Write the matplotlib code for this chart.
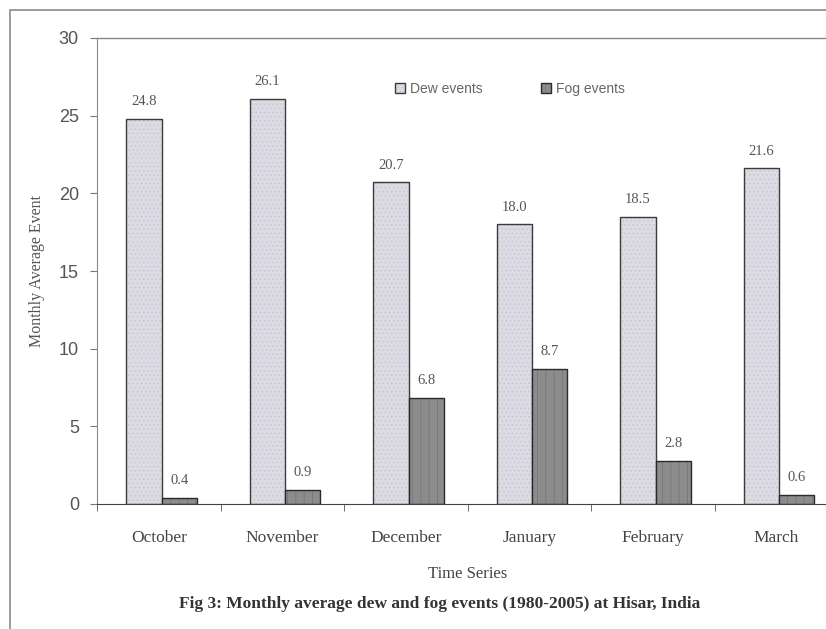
import matplotlib
matplotlib.use("Agg")
import matplotlib.pyplot as plt
from matplotlib.patches import Rectangle
import numpy as np

months = ["October", "November", "December", "January", "February", "March"]
dew_events = [24.8, 26.1, 20.7, 18.0, 18.5, 21.6]
fog_events = [0.4, 0.9, 6.8, 8.7, 2.8, 0.6]
dew_labels = ["24.8", "26.1", "20.7", "18.0", "18.5", "21.6"]
fog_labels = ["0.4", "0.9", "6.8", "8.7", "2.8", "0.6"]
y_ticks = [0, 5, 10, 15, 20, 25, 30]

W, H = 826, 629
fig = plt.figure(figsize=(W / 100, H / 100), dpi=100)
fig.patch.set_facecolor("white")

# outer frame (partly cut off on right / bottom)
fig.add_artist(Rectangle((10 / W, -0.05), 1.2, 1 - 10 / H + 0.05, transform=fig.transFigure,
                         fill=False, edgecolor="#8a8a8a", linewidth=1.2))

ax = fig.add_axes([97 / W, 1 - 504 / H, 741 / W, (504 - 38) / H])
x = np.arange(len(months))
bw = 0.285
plt.rcParams['hatch.linewidth'] = 0.5
b1 = ax.bar(x - 0.12, dew_events, width=bw, color="#dcdae3", edgecolor="#3a3a3a",
            linewidth=1.0, hatch="....", label="Dew events")
b2 = ax.bar(x + 0.165, fog_events, width=bw, color="#8c8c8c", edgecolor="#2a2a2a",
            linewidth=1.0, hatch="||", label="Fog events")
for bar in b1:
    bar._hatch_color = (0.78, 0.77, 0.82, 1)
for bar in b2:
    bar._hatch_color = (0.45, 0.45, 0.45, 1)

for xi, v, s in zip(x, dew_events, dew_labels):
    ax.text(xi - 0.12, v + 0.7, s, ha="center", va="bottom", family="Liberation Serif",
            fontsize=10.5, color="#555555")
for xi, v, s in zip(x, fog_events, fog_labels):
    ax.text(xi + 0.165, v + 0.7, s, ha="center", va="bottom", family="Liberation Serif",
            fontsize=10.5, color="#555555")

ax.set_xlim(-0.5, 5.5)
ax.set_ylim(0, 30)
ax.set_yticks(y_ticks)
ax.set_yticklabels([str(t) for t in y_ticks], family="Liberation Sans", fontsize=13, color="#555555")
ax.set_xticks(x)
ax.set_xticklabels(months, family="Liberation Serif", fontsize=12.5, color="#444444")
ax.tick_params(axis="x", length=0, pad=19)
ax.set_xticks(np.arange(-0.5, 6.0, 1.0), minor=True)
ax.tick_params(axis="x", which="minor", length=5, direction="out", color="#555555")
ax.tick_params(axis="y", length=5, direction="out", color="#777777", pad=8)

ax.spines["top"].set_color("#888888")
ax.spines["top"].set_linewidth(1.0)
ax.spines["right"].set_visible(False)
ax.spines["left"].set_color("#888888")
ax.spines["bottom"].set_color("#444444")

ax.set_ylabel("Monthly Average Event", family="Liberation Serif", fontsize=11.5, color="#555555",
              labelpad=10)
ax.set_xlabel("Time Series", family="Liberation Serif", fontsize=12, color="#444444", labelpad=14)

leg = ax.legend(loc="upper left", bbox_to_anchor=(0.385, 0.932), ncol=2, frameon=False,
                prop={"family": "Liberation Sans", "size": 10}, handlelength=0.7,
                handleheight=0.7, columnspacing=4.2, handletextpad=0.4)
for t in leg.get_texts():
    t.set_color("#666666")

fig.text(440 / W, 1 - 604 / H, "Fig 3: Monthly average dew and fog events (1980-2005) at Hisar, India",
         ha="center", va="center", family="Liberation Serif", fontsize=12.5,
         fontweight="bold", color="#333333")

fig.savefig("out.png", dpi=100)
